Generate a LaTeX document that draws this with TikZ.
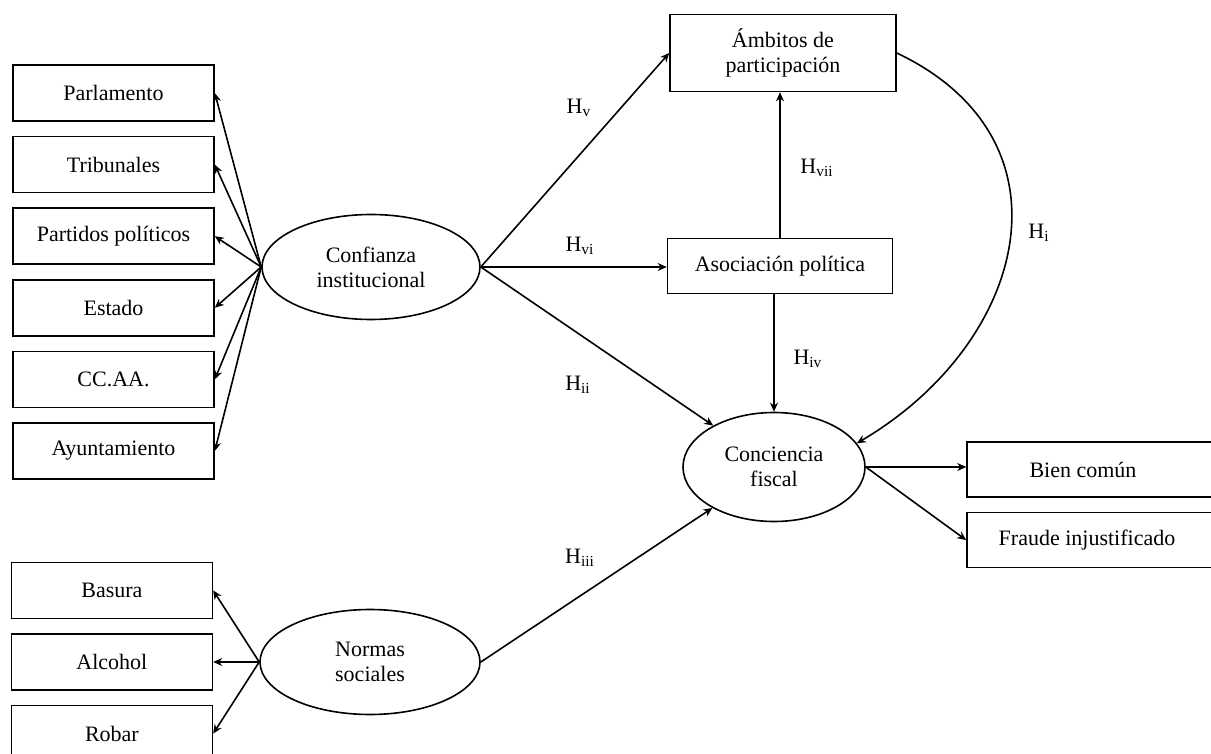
\documentclass[tikz,border=0pt]{standalone}
\usepackage{fontspec}
\setmainfont{Liberation Serif}
\usetikzlibrary{positioning,shapes.geometric,arrows.meta}

\begin{document}
\begin{tikzpicture}[x=0.5pt,y=-0.5pt,font=\fontsize{11}{12.5}\selectfont]
		\tikzstyle{obs}=[rectangle, draw=black, thick, minimum width=100.5pt, minimum height=28pt, inner sep=0pt, node distance=7pt]
		\tikzstyle{latent}=[ellipse, draw=black, thick, align=center, inner sep=0pt]
		\tikzstyle{connect}=[-{Stealth[length=4.5pt,width=4pt]}, thick]
		\tikzstyle{hyp}=[inner sep=0pt]
		\useasboundingbox (0,0) rectangle (1211,754);
		% latent constructs
		\node[latent, minimum width=109pt, minimum height=52.5pt] (confianza) at (371,267) {Confianza\\institucional};
		\node[latent, minimum width=91pt, minimum height=54.5pt] (conciencia) at (774,467) {Conciencia\\fiscal};
		\node[latent, minimum width=110pt, minimum height=52.5pt] (normas) at (370,662) {Normas\\sociales};
		\node[obs, align=center, minimum width=113pt, minimum height=38.5pt] (ambitos) at (783,53) {Ámbitos de\\participación};
		\node[obs, minimum width=112.5pt, minimum height=27.5pt] (asociacion) at (780,266) {Asociación política};
		% indicators
		\node[obs] (parlamento) at (113.5,93) {Parlamento};
		\node[obs] (tribunales) [below=of parlamento] {Tribunales};
		\node[obs] (partidos) [below=of tribunales] {Partidos políticos};
		\node[obs] (estado) [below=of partidos] {Estado};
		\node[obs] (ccaa) [below=of estado] {CC.AA.};
		\node[obs] (ayuntamiento) [below=of ccaa] {Ayuntamiento};
		\node[obs] (alcohol) [left=23pt of normas] {Alcohol};
		\node[obs] (basura) [above=of alcohol] {Basura};
		\node[obs] (robar) [below=of alcohol] {Robar};
		\node[obs, minimum width=130pt, minimum height=27.5pt] (bien) at (1097,469.5) {\hspace*{-14pt}Bien común};
		\node[obs, minimum width=130pt, minimum height=27.5pt] (fraude) [below=of bien] {\hspace*{-10pt}Fraude injustificado};
		% hypotheses
		\node[hyp] (hv) at (579,108) {H\textsubscript{v}};
		\node[hyp] (hvi) at (580,246) {H\textsubscript{vi}};
		\node[hyp] (hvii) at (817,168) {H\textsubscript{vii}};
		\node[hyp] (hi) at (1039,233) {H\textsubscript{i}};
		\node[hyp] (hiv) at (808,359) {H\textsubscript{iv}};
		\node[hyp] (hii) at (578,385) {H\textsubscript{ii}};
		\node[hyp] (hiii) at (580,558) {H\textsubscript{iii}};
		\path (confianza.west) edge [connect] (parlamento.east)
		(confianza.west) edge [connect] (tribunales.east)
		(confianza.west) edge [connect] (partidos.east)
		(confianza.west) edge [connect] (estado.east)
		(confianza.west) edge [connect] (ccaa.east)
		(confianza.west) edge [connect] (ayuntamiento.east)
		(normas.west) edge [connect] (basura.east)
		(normas.west) edge [connect] (alcohol.east)
		(normas.west) edge [connect] (robar.east)
		(confianza.east) edge [connect] (ambitos.west)
		(confianza.east) edge [connect] (confianza.east -| asociacion.west)
		(confianza.east) edge [connect] (conciencia)
		(normas.east) edge [connect] (conciencia)
		(asociacion.north) edge [connect] (asociacion.north |- ambitos.south)
		(asociacion.south -| conciencia.north) edge [connect] (conciencia.north)
		(conciencia.east) edge [connect] (conciencia.east -| bien.west)
		(conciencia.east) edge [connect] (fraude.west);
		\draw[connect] (ambitos.east) .. controls +(183,87) and +(170,-100) .. (conciencia.16);
\end{tikzpicture}
\end{document}
